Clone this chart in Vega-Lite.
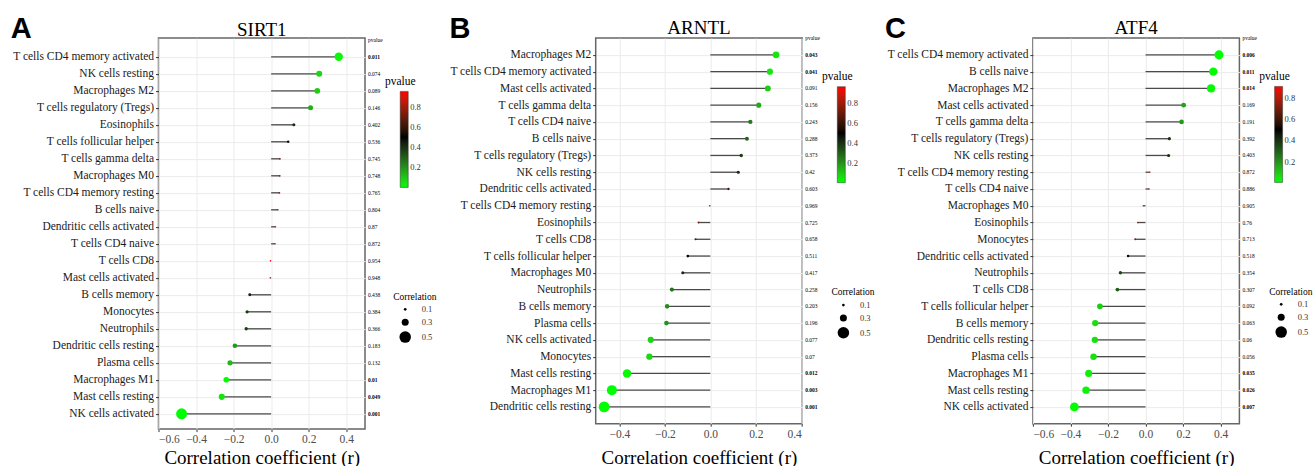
{
  "$schema": "https://vega.github.io/schema/vega-lite/v6.json",
  "background": "white",
  "padding": {"left": 8.5, "top": 13.1, "right": 0, "bottom": 0},
  "bounds": "flush",
  "spacing": 230.2,
  "datasets": {
    "sirt1": [
      {"cell": "T cells CD4 memory activated", "r": 0.36, "corr": 0.36, "p": 0.011},
      {"cell": "NK cells resting", "r": 0.256, "corr": 0.256, "p": 0.074},
      {"cell": "Macrophages M2", "r": 0.246, "corr": 0.246, "p": 0.089},
      {"cell": "T cells regulatory (Tregs)", "r": 0.21, "corr": 0.21, "p": 0.146},
      {"cell": "Eosinophils", "r": 0.121, "corr": 0.121, "p": 0.402},
      {"cell": "T cells follicular helper", "r": 0.091, "corr": 0.091, "p": 0.536},
      {"cell": "T cells gamma delta", "r": 0.047, "corr": 0.047, "p": 0.745},
      {"cell": "Macrophages M0", "r": 0.046, "corr": 0.046, "p": 0.748},
      {"cell": "T cells CD4 memory resting", "r": 0.044, "corr": 0.044, "p": 0.765},
      {"cell": "B cells naive", "r": 0.036, "corr": 0.036, "p": 0.804},
      {"cell": "Dendritic cells activated", "r": 0.023, "corr": 0.023, "p": 0.87},
      {"cell": "T cells CD4 naive", "r": 0.021, "corr": 0.021, "p": 0.872},
      {"cell": "T cells CD8", "r": -0.004, "corr": 0.004, "p": 0.954},
      {"cell": "Mast cells activated", "r": -0.005, "corr": 0.005, "p": 0.948},
      {"cell": "B cells memory", "r": -0.114, "corr": 0.114, "p": 0.438},
      {"cell": "Monocytes", "r": -0.128, "corr": 0.128, "p": 0.384},
      {"cell": "Neutrophils", "r": -0.133, "corr": 0.133, "p": 0.366},
      {"cell": "Dendritic cells resting", "r": -0.193, "corr": 0.193, "p": 0.183},
      {"cell": "Plasma cells", "r": -0.219, "corr": 0.219, "p": 0.132},
      {"cell": "Macrophages M1", "r": -0.239, "corr": 0.239, "p": 0.01},
      {"cell": "Mast cells resting", "r": -0.263, "corr": 0.263, "p": 0.049},
      {"cell": "NK cells activated", "r": -0.477, "corr": 0.477, "p": 0.001}
    ],
    "arntl": [
      {"cell": "Macrophages M2", "r": 0.289, "corr": 0.289, "p": 0.043},
      {"cell": "T cells CD4 memory activated", "r": 0.262, "corr": 0.262, "p": 0.041},
      {"cell": "Mast cells activated", "r": 0.253, "corr": 0.253, "p": 0.091},
      {"cell": "T cells gamma delta", "r": 0.213, "corr": 0.213, "p": 0.156},
      {"cell": "T cells CD4 naive", "r": 0.176, "corr": 0.176, "p": 0.243},
      {"cell": "B cells naive", "r": 0.161, "corr": 0.161, "p": 0.288},
      {"cell": "T cells regulatory (Tregs)", "r": 0.136, "corr": 0.136, "p": 0.373},
      {"cell": "NK cells resting", "r": 0.123, "corr": 0.123, "p": 0.42},
      {"cell": "Dendritic cells activated", "r": 0.08, "corr": 0.08, "p": 0.603},
      {"cell": "T cells CD4 memory resting", "r": -0.003, "corr": 0.003, "p": 0.969},
      {"cell": "Eosinophils", "r": -0.052, "corr": 0.052, "p": 0.725},
      {"cell": "T cells CD8", "r": -0.065, "corr": 0.065, "p": 0.658},
      {"cell": "T cells follicular helper", "r": -0.099, "corr": 0.099, "p": 0.511},
      {"cell": "Macrophages M0", "r": -0.121, "corr": 0.121, "p": 0.417},
      {"cell": "Neutrophils", "r": -0.169, "corr": 0.169, "p": 0.258},
      {"cell": "B cells memory", "r": -0.19, "corr": 0.19, "p": 0.203},
      {"cell": "Plasma cells", "r": -0.193, "corr": 0.193, "p": 0.196},
      {"cell": "NK cells activated", "r": -0.262, "corr": 0.262, "p": 0.077},
      {"cell": "Monocytes", "r": -0.268, "corr": 0.268, "p": 0.07},
      {"cell": "Mast cells resting", "r": -0.366, "corr": 0.366, "p": 0.012},
      {"cell": "Macrophages M1", "r": -0.433, "corr": 0.433, "p": 0.003},
      {"cell": "Dendritic cells resting", "r": -0.467, "corr": 0.467, "p": 0.001}
    ],
    "atf4": [
      {"cell": "T cells CD4 memory activated", "r": 0.391, "corr": 0.391, "p": 0.006},
      {"cell": "B cells naive", "r": 0.361, "corr": 0.361, "p": 0.011},
      {"cell": "Macrophages M2", "r": 0.349, "corr": 0.349, "p": 0.014},
      {"cell": "Mast cells activated", "r": 0.203, "corr": 0.203, "p": 0.169},
      {"cell": "T cells gamma delta", "r": 0.192, "corr": 0.192, "p": 0.191},
      {"cell": "T cells regulatory (Tregs)", "r": 0.127, "corr": 0.127, "p": 0.392},
      {"cell": "NK cells resting", "r": 0.123, "corr": 0.123, "p": 0.403},
      {"cell": "T cells CD4 memory resting", "r": 0.023, "corr": 0.023, "p": 0.872},
      {"cell": "T cells CD4 naive", "r": 0.019, "corr": 0.019, "p": 0.886},
      {"cell": "Macrophages M0", "r": -0.012, "corr": 0.012, "p": 0.905},
      {"cell": "Eosinophils", "r": -0.041, "corr": 0.041, "p": 0.76},
      {"cell": "Monocytes", "r": -0.055, "corr": 0.055, "p": 0.713},
      {"cell": "Dendritic cells activated", "r": -0.093, "corr": 0.093, "p": 0.518},
      {"cell": "Neutrophils", "r": -0.134, "corr": 0.134, "p": 0.354},
      {"cell": "T cells CD8", "r": -0.15, "corr": 0.15, "p": 0.307},
      {"cell": "T cells follicular helper", "r": -0.243, "corr": 0.243, "p": 0.092},
      {"cell": "B cells memory", "r": -0.268, "corr": 0.268, "p": 0.063},
      {"cell": "Dendritic cells resting", "r": -0.27, "corr": 0.27, "p": 0.06},
      {"cell": "Plasma cells", "r": -0.277, "corr": 0.277, "p": 0.056},
      {"cell": "Macrophages M1", "r": -0.303, "corr": 0.303, "p": 0.035},
      {"cell": "Mast cells resting", "r": -0.317, "corr": 0.317, "p": 0.026},
      {"cell": "NK cells activated", "r": -0.379, "corr": 0.379, "p": 0.007}
    ]
  },
  "resolve": {
    "scale": {"x": "independent", "y": "independent", "color": "independent", "size": "independent"},
    "legend": {"color": "independent", "size": "independent"}
  },
  "hconcat": [
    {
      "width": 206.5,
      "height": 391,
      "title": {"text": "SIRT1", "offset": -25.2},
      "data": {"name": "sirt1"},
      "layer": [
        {
          "mark": {"type": "rule", "color": "#4a4a4a", "strokeWidth": 1.3},
          "encoding": {
            "y": {"field": "cell", "type": "nominal",
              "scale": {"type": "point", "padding": 1.42, "align": 0.55,
                "domain": ["T cells CD4 memory activated","NK cells resting","Macrophages M2","T cells regulatory (Tregs)","Eosinophils","T cells follicular helper","T cells gamma delta","Macrophages M0","T cells CD4 memory resting","B cells naive","Dendritic cells activated","T cells CD4 naive","T cells CD8","Mast cells activated","B cells memory","Monocytes","Neutrophils","Dendritic cells resting","Plasma cells","Macrophages M1","Mast cells resting","NK cells activated"]},
              "axis": {"title": "A", "titleX": -148.3, "titleY": -0.7}},
            "x": {"field": "r", "type": "quantitative",
              "scale": {"domain": [-0.6, 0.5], "nice": false, "zero": false},
              "axis": {"title": "Correlation coefficient (r)", "values": [-0.6, -0.4, -0.2, 0, 0.2, 0.4], "format": ".1f", "titlePadding": 3.5}},
            "x2": {"datum": 0}
          }
        },
        {
          "mark": {"type": "circle", "opacity": 1},
          "encoding": {
            "y": {"field": "cell", "type": "nominal"},
            "x": {"field": "r", "type": "quantitative"},
            "color": {"field": "p", "type": "quantitative",
              "scale": {"domain": [0.001, 0.954], "domainMid": 0.5, "range": ["#00ff00", "#000000", "#ff0000"], "interpolate": "lab"},
              "legend": {"title": "pvalue", "orient": "none", "legendX": 226.7, "legendY": 37.8, "direction": "vertical", "values": [0.2, 0.4, 0.6, 0.8]}},
            "size": {"field": "corr", "type": "quantitative",
              "scale": {"type": "pow", "exponent": 2, "domain": [0, 0.5], "range": [2, 133]},
              "legend": {"title": "Correlation", "titleFontSize": 9.5, "titleAlign": "left", "orient": "none", "legendX": 234.7, "legendY": 253.5, "values": [0.1, 0.3, 0.5]}}
          }
        },
        {
          "transform": [{"filter": "datum.p < 0.05"}],
          "mark": {"type": "text", "align": "left", "baseline": "middle", "dx": 3, "fontSize": 5.5, "fontWeight": "bold", "color": "#000"},
          "encoding": {
            "y": {"field": "cell", "type": "nominal"},
            "x": {"datum": 0.5, "type": "quantitative"},
            "text": {"field": "p", "type": "nominal"}
          }
        },
        {
          "transform": [{"filter": "datum.p >= 0.05"}],
          "mark": {"type": "text", "align": "left", "baseline": "middle", "dx": 3, "fontSize": 5.5, "color": "#000"},
          "encoding": {
            "y": {"field": "cell", "type": "nominal"},
            "x": {"datum": 0.5, "type": "quantitative"},
            "text": {"field": "p", "type": "nominal"}
          }
        },
        {
          "data": {"values": [{"h": "pvalue"}]},
          "mark": {"type": "text", "align": "left", "baseline": "middle", "dx": 3, "dy": -16.4, "fontSize": 5.5, "color": "#000"},
          "encoding": {
            "y": {"datum": "T cells CD4 memory activated", "type": "nominal"},
            "x": {"datum": 0.5, "type": "quantitative"},
            "text": {"field": "h", "type": "nominal"}
          }
        }
      ]
    },
    {
      "width": 206.5,
      "height": 385.6,
      "title": {"text": "ARNTL", "offset": -23.2},
      "data": {"name": "arntl"},
      "layer": [
        {
          "mark": {"type": "rule", "color": "#4a4a4a", "strokeWidth": 1.3},
          "encoding": {
            "y": {"field": "cell", "type": "nominal",
              "scale": {"type": "point", "padding": 1.256,
                "domain": ["Macrophages M2","T cells CD4 memory activated","Mast cells activated","T cells gamma delta","T cells CD4 naive","B cells naive","T cells regulatory (Tregs)","NK cells resting","Dendritic cells activated","T cells CD4 memory resting","Eosinophils","T cells CD8","T cells follicular helper","Macrophages M0","Neutrophils","B cells memory","Plasma cells","NK cells activated","Monocytes","Mast cells resting","Macrophages M1","Dendritic cells resting"]},
              "axis": {"title": "B", "titleX": -146.7, "titleY": -0.7}},
            "x": {"field": "r", "type": "quantitative",
              "scale": {"domain": [-0.504, 0.404], "nice": false, "zero": false},
              "axis": {"title": "Correlation coefficient (r)", "values": [-0.4, -0.2, 0, 0.2, 0.4], "format": ".1f"}},
            "x2": {"datum": 0}
          }
        },
        {
          "mark": {"type": "circle", "opacity": 1},
          "encoding": {
            "y": {"field": "cell", "type": "nominal"},
            "x": {"field": "r", "type": "quantitative"},
            "color": {"field": "p", "type": "quantitative",
              "scale": {"domain": [0.001, 0.969], "domainMid": 0.5, "range": ["#00ff00", "#000000", "#ff0000"], "interpolate": "lab"},
              "legend": {"title": "pvalue", "orient": "none", "legendX": 226.6, "legendY": 33.1, "direction": "vertical", "values": [0.2, 0.4, 0.6, 0.8]}},
            "size": {"field": "corr", "type": "quantitative",
              "scale": {"type": "pow", "exponent": 2, "domain": [0, 0.5], "range": [2, 133]},
              "legend": {"title": "Correlation", "titleFontSize": 9.5, "titleAlign": "left", "orient": "none", "legendX": 235.7, "legendY": 249.2, "values": [0.1, 0.3, 0.5]}}
          }
        },
        {
          "transform": [{"filter": "datum.p < 0.05"}],
          "mark": {"type": "text", "align": "left", "baseline": "middle", "dx": 3, "fontSize": 5.5, "fontWeight": "bold", "color": "#000"},
          "encoding": {
            "y": {"field": "cell", "type": "nominal"},
            "x": {"datum": 0.404, "type": "quantitative"},
            "text": {"field": "p", "type": "nominal"}
          }
        },
        {
          "transform": [{"filter": "datum.p >= 0.05"}],
          "mark": {"type": "text", "align": "left", "baseline": "middle", "dx": 3, "fontSize": 5.5, "color": "#000"},
          "encoding": {
            "y": {"field": "cell", "type": "nominal"},
            "x": {"datum": 0.404, "type": "quantitative"},
            "text": {"field": "p", "type": "nominal"}
          }
        },
        {
          "data": {"values": [{"h": "pvalue"}]},
          "mark": {"type": "text", "align": "left", "baseline": "middle", "dx": 3, "dy": -16.4, "fontSize": 5.5, "color": "#000"},
          "encoding": {
            "y": {"datum": "Macrophages M2", "type": "nominal"},
            "x": {"datum": 0.404, "type": "quantitative"},
            "text": {"field": "h", "type": "nominal"}
          }
        }
      ]
    },
    {
      "width": 206.5,
      "height": 385.6,
      "title": {"text": "ATF4", "offset": -23.2},
      "data": {"name": "atf4"},
      "layer": [
        {
          "mark": {"type": "rule", "color": "#4a4a4a", "strokeWidth": 1.3},
          "encoding": {
            "y": {"field": "cell", "type": "nominal",
              "scale": {"type": "point", "padding": 1.256,
                "domain": ["T cells CD4 memory activated","B cells naive","Macrophages M2","Mast cells activated","T cells gamma delta","T cells regulatory (Tregs)","NK cells resting","T cells CD4 memory resting","T cells CD4 naive","Macrophages M0","Eosinophils","Monocytes","Dendritic cells activated","Neutrophils","T cells CD8","T cells follicular helper","B cells memory","Dendritic cells resting","Plasma cells","Macrophages M1","Mast cells resting","NK cells activated"]},
              "axis": {"title": "C", "titleX": -148.4, "titleY": -0.7}},
            "x": {"field": "r", "type": "quantitative",
              "scale": {"domain": [-0.6, 0.5], "nice": false, "zero": false},
              "axis": {"title": "Correlation coefficient (r)", "values": [-0.6, -0.4, -0.2, 0, 0.2, 0.4], "format": ".1f"}},
            "x2": {"datum": 0}
          }
        },
        {
          "mark": {"type": "circle", "opacity": 1},
          "encoding": {
            "y": {"field": "cell", "type": "nominal"},
            "x": {"field": "r", "type": "quantitative"},
            "color": {"field": "p", "type": "quantitative",
              "scale": {"domain": [0.006, 0.905], "domainMid": 0.5, "range": ["#00ff00", "#000000", "#ff0000"], "interpolate": "lab"},
              "legend": {"title": "pvalue", "orient": "none", "legendX": 226.7, "legendY": 32.8, "direction": "vertical", "values": [0.2, 0.4, 0.6, 0.8]}},
            "size": {"field": "corr", "type": "quantitative",
              "scale": {"type": "pow", "exponent": 2, "domain": [0, 0.5], "range": [2, 133]},
              "legend": {"title": "Correlation", "titleFontSize": 9.5, "titleAlign": "left", "orient": "none", "legendX": 236.3, "legendY": 248.5, "values": [0.1, 0.3, 0.5]}}
          }
        },
        {
          "transform": [{"filter": "datum.p < 0.05"}],
          "mark": {"type": "text", "align": "left", "baseline": "middle", "dx": 3, "fontSize": 5.5, "fontWeight": "bold", "color": "#000"},
          "encoding": {
            "y": {"field": "cell", "type": "nominal"},
            "x": {"datum": 0.5, "type": "quantitative"},
            "text": {"field": "p", "type": "nominal"}
          }
        },
        {
          "transform": [{"filter": "datum.p >= 0.05"}],
          "mark": {"type": "text", "align": "left", "baseline": "middle", "dx": 3, "fontSize": 5.5, "color": "#000"},
          "encoding": {
            "y": {"field": "cell", "type": "nominal"},
            "x": {"datum": 0.5, "type": "quantitative"},
            "text": {"field": "p", "type": "nominal"}
          }
        },
        {
          "data": {"values": [{"h": "pvalue"}]},
          "mark": {"type": "text", "align": "left", "baseline": "middle", "dx": 3, "dy": -16.4, "fontSize": 5.5, "color": "#000"},
          "encoding": {
            "y": {"datum": "T cells CD4 memory activated", "type": "nominal"},
            "x": {"datum": 0.5, "type": "quantitative"},
            "text": {"field": "h", "type": "nominal"}
          }
        }
      ]
    }
  ],
  "config": {
    "font": "Liberation Serif",
    "view": {"stroke": "#666666", "strokeWidth": 1.5},
    "title": {"font": "Liberation Serif", "fontSize": 19, "fontWeight": "normal", "color": "#000000", "anchor": "middle"},
    "axis": {"labelFont": "Liberation Serif", "labelFontSize": 11.5, "labelColor": "#333333", "tickColor": "#333333", "tickSize": 3, "labelPadding": 2, "domain": false, "grid": true, "gridColor": "#ebebeb", "gridWidth": 1, "titleFont": "Liberation Serif", "titleFontWeight": "normal", "titleColor": "#000000"},
    "axisX": {"labelColor": "#4d4d4d", "tickSize": 2.5, "labelPadding": 2, "titleFontSize": 19, "titlePadding": 8.9},
    "axisY": {"labelColor": "#1a1a1a", "titleFont": "Liberation Sans", "titleFontSize": 29, "titleFontWeight": "bold", "titleAngle": 0, "titleAlign": "left", "titleBaseline": "alphabetic"},
    "legend": {"titleFont": "Liberation Serif", "titleFontWeight": "normal", "titleColor": "#000000", "titleFontSize": 11.5, "titleAnchor": "start", "titleAlign": "center", "titlePadding": 4, "labelFont": "Liberation Serif", "labelColor": "#333333", "labelFontSize": 8.5, "padding": 0,
      "gradientLength": 96, "gradientThickness": 8, "gradientStrokeColor": "#333333", "gradientStrokeWidth": 0.5,
      "symbolFillColor": "#000000", "symbolStrokeWidth": 0, "symbolType": "circle", "symbolOpacity": 1, "symbolOffset": 6, "labelOffset": 10.5, "rowPadding": 4}
  }
}
